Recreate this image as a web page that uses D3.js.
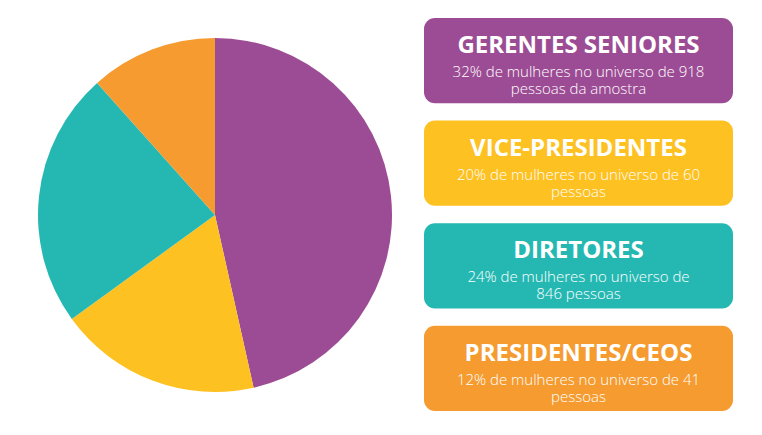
<!DOCTYPE html>
<html><head><meta charset="utf-8">
<script src="https://cdn.jsdelivr.net/npm/d3@7"></script>
<style>body{margin:0;background:#fff}</style></head>
<body><svg id="c" width="762" height="435"></svg>
<script>
const categories = ["GERENTES SENIORES","VICE-PRESIDENTES","DIRETORES","PRESIDENTES/CEOS"];
const sliceValues = [46.5, 18.5, 23.4, 11.6];
const subtitles = [
  ["32% de mulheres no universo de 918","pessoas da amostra"],
  ["20% de mulheres no universo de 60","pessoas"],
  ["24% de mulheres no universo de","846 pessoas"],
  ["12% de mulheres no universo de 41","pessoas"]
];
const colors = ["#9c4c94","#fec122","#25b8b2","#f59b2f"];

const svg = d3.select("#c");
const pie = d3.pie().sort(null)(sliceValues);
const arc = d3.arc().innerRadius(0).outerRadius(177);
svg.append("g").attr("transform","translate(215,215)")
  .selectAll("path").data(pie).join("path")
  .attr("d",arc).attr("fill",(d,i)=>colors[i]);

const y = d3.scaleBand().domain(categories).range([18,411]).paddingInner(0.17);
const g = svg.selectAll("g.box").data(categories).join("g").attr("class","box")
  .attr("transform",d=>`translate(424,${y(d)})`);
g.append("rect").attr("width",309).attr("height",y.bandwidth()).attr("rx",11)
  .attr("fill",(d,i)=>colors[i]);
g.append("text").attr("x",154.5).attr("y",35).attr("text-anchor","middle")
  .attr("fill","#fff").attr("font-family","Open Sans").attr("font-weight",700)
  .attr("font-size",24).text(d=>d);
g.each(function(d,i){
  const t = d3.select(this).append("text").attr("text-anchor","middle")
    .attr("fill","#fff").attr("font-family","Open Sans").attr("font-weight",300)
    .attr("font-size",15);
  subtitles[i].forEach((s,j)=>t.append("tspan").attr("x",154.5).attr("y",59+j*17).text(s));
});
</script></body></html>
